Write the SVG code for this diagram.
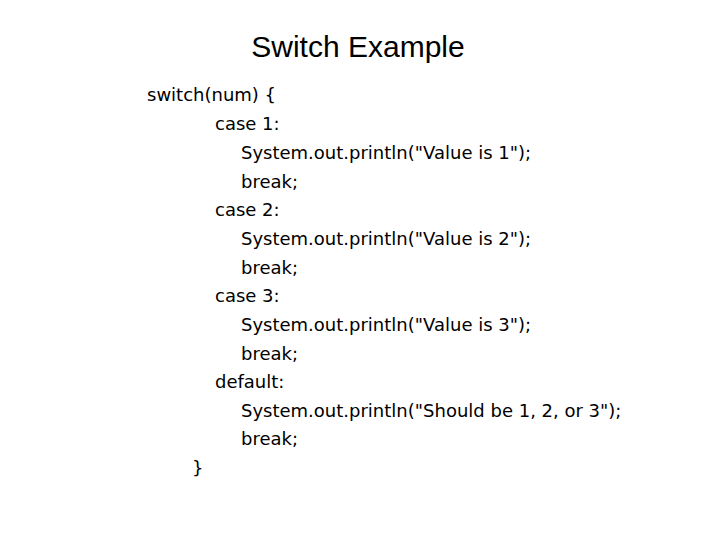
<svg xmlns="http://www.w3.org/2000/svg" width="720" height="540" viewBox="0 0 720 540">
<style>
.t{font-family:"Liberation Sans",Arial,sans-serif;font-size:30px;fill:#000}
.c{font-family:"DejaVu Sans",Tahoma,sans-serif;font-size:18px;fill:#000}
</style>
<rect width="720" height="540" fill="#fff"/>
<text class="t" x="358" y="57" text-anchor="middle">Switch Example</text>
<g class="c">
<text x="147" y="101">switch(num) {</text>
<text x="215" y="130">case 1:</text>
<text x="241" y="159">System.out.println("Value is 1");</text>
<text x="241" y="188">break;</text>
<text x="215" y="216">case 2:</text>
<text x="241" y="245">System.out.println("Value is 2");</text>
<text x="241" y="274">break;</text>
<text x="215" y="302">case 3:</text>
<text x="241" y="331">System.out.println("Value is 3");</text>
<text x="241" y="360">break;</text>
<text x="215" y="388">default:</text>
<text x="241" y="417">System.out.println("Should be 1, 2, or 3");</text>
<text x="241" y="445">break;</text>
<text x="192" y="474">}</text>
</g>
</svg>
